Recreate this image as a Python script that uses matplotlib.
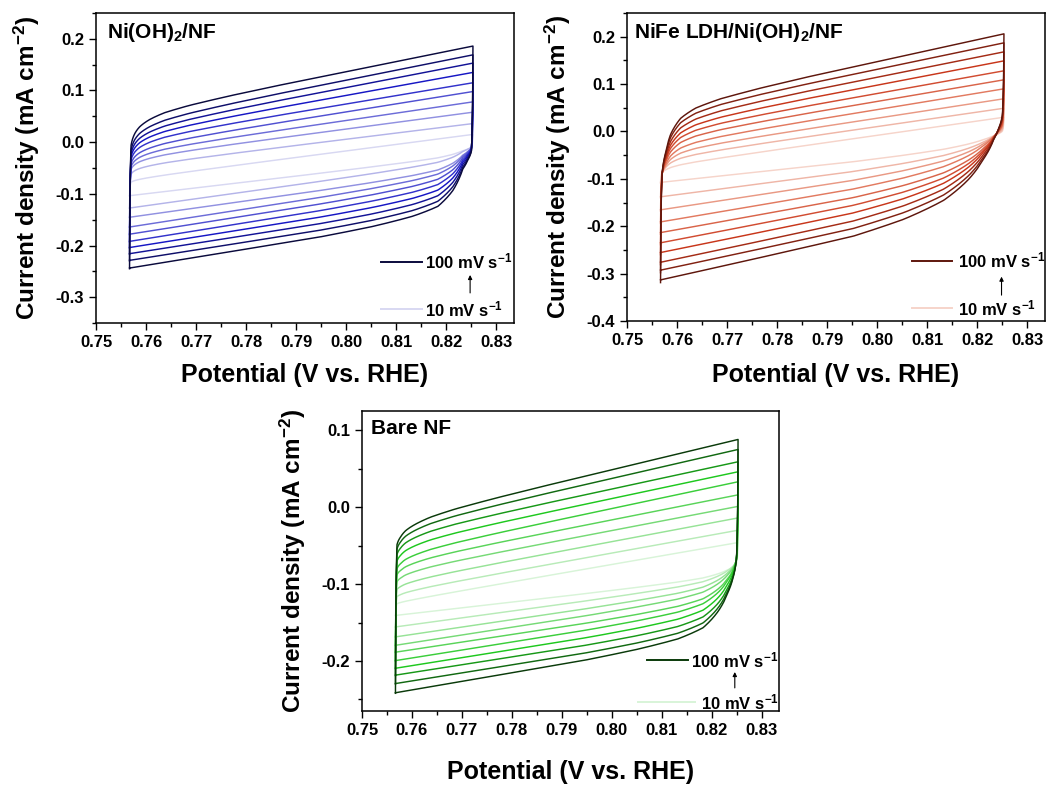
import matplotlib
matplotlib.use("Agg")
import matplotlib.pyplot as plt
import numpy as np
from matplotlib.colors import LinearSegmentedColormap
from matplotlib.ticker import MultipleLocator, FormatStrFormatter

plt.rcParams["font.family"] = ["Liberation Sans", "DejaVu Sans"]
plt.rcParams["font.weight"] = "bold"
plt.rcParams["mathtext.fontset"] = "custom"
plt.rcParams["mathtext.rm"] = "Liberation Sans:bold"
plt.rcParams["mathtext.bf"] = "Liberation Sans:bold"
plt.rcParams["mathtext.default"] = "bf"
plt.rcParams["axes.unicode_minus"] = False

# scan rates (mV/s), lightest -> darkest
scan_rates = [10, 20, 30, 40, 50, 60, 70, 80, 90, 100]

# vertex potentials and reference potentials (V vs. RHE)
E_LO, E_HI = 0.7567, 0.8253
E_UP_REF, E_DN_REF = 0.78, 0.80

# Ni(OH)2/NF: anodic branch at 0.78 V and at E_HI, cathodic branch at 0.80 V and at E_LO
ni_up_078 = [-0.042, -0.018, 0.000, 0.014, 0.028, 0.042, 0.056, 0.069, 0.082, 0.098]
ni_up_end = [0.015, 0.036, 0.058, 0.078, 0.098, 0.115, 0.135, 0.153, 0.169, 0.186]
ni_dn_080 = [-0.055, -0.070, -0.088, -0.101, -0.114, -0.127, -0.140, -0.153, -0.166, -0.179]
ni_dn_end = [-0.104, -0.128, -0.146, -0.165, -0.179, -0.193, -0.205, -0.217, -0.230, -0.245]

# NiFe LDH/Ni(OH)2/NF
nife_up_078 = [-0.038, -0.020, -0.004, 0.012, 0.028, 0.043, 0.058, 0.073, 0.088, 0.102]
nife_up_end = [0.030, 0.049, 0.069, 0.090, 0.109, 0.128, 0.149, 0.168, 0.187, 0.206]
nife_dn_080 = [-0.062, -0.083, -0.102, -0.121, -0.140, -0.157, -0.174, -0.192, -0.209, -0.226]
nife_dn_end = [-0.109, -0.140, -0.168, -0.194, -0.217, -0.239, -0.260, -0.281, -0.298, -0.319]

# Bare NF
nf_up_078 = [-0.097, -0.083, -0.069, -0.055, -0.042, -0.029, -0.016, -0.004, 0.008, 0.018]
nf_up_end = [-0.046, -0.030, -0.014, 0.001, 0.016, 0.033, 0.046, 0.059, 0.075, 0.088]
nf_dn_080 = [-0.109, -0.118, -0.128, -0.137, -0.147, -0.156, -0.166, -0.176, -0.186, -0.195]
nf_dn_end = [-0.141, -0.156, -0.169, -0.180, -0.189, -0.200, -0.210, -0.219, -0.230, -0.242]

# knee shape near the vertices: fraction of the way to the linear branch vs distance from vertex
knee_dE = [0, 0.0003, 0.001, 0.002, 0.004, 0.007, 0.012, 0.02, 0.03, 0.1]
ni_up_knee = [0, 0.80, 0.87, 0.91, 0.945, 0.97, 0.985, 0.994, 0.998, 1.0]
ni_dn_knee = [0, 0.62, 0.67, 0.72, 0.84, 0.92, 0.955, 0.978, 0.99, 1.0]
nife_up_knee = [0, 0.62, 0.74, 0.84, 0.92, 0.96, 0.982, 0.993, 0.998, 1.0]
nife_dn_knee = [0, 0.45, 0.52, 0.58, 0.68, 0.78, 0.87, 0.93, 0.965, 1.0]
nf_up_knee = [0, 0.86, 0.90, 0.93, 0.955, 0.975, 0.988, 0.995, 0.998, 1.0]
nf_dn_knee = [0, 0.60, 0.70, 0.77, 0.86, 0.93, 0.965, 0.983, 0.993, 1.0]

W, H = 1049, 785


def knee(dE, profile):
    # interpolate the knee profile on a log scale so the bend stays smooth
    lx = np.log10(np.asarray(knee_dE) + 2e-5)
    return np.interp(np.log10(dE + 2e-5), lx, profile)


def cv_loop(up_mid, up_end, dn_mid, dn_end, up_knee, dn_knee):
    E = np.linspace(E_LO, E_HI, 2000)
    up_line = up_mid + (up_end - up_mid) * (E - E_UP_REF) / (E_HI - E_UP_REF)
    dn_line = dn_end + (dn_mid - dn_end) * (E - E_LO) / (E_DN_REF - E_LO)
    f = knee(E - E_LO, up_knee)
    g = knee(E_HI - E, dn_knee)
    anodic = dn_end + f * (up_line - dn_end)
    cathodic = up_end + g * (dn_line - up_end)
    return np.concatenate([E, E[::-1]]), np.concatenate([anodic, cathodic[::-1]])


def draw_panel(rect_px, data, knees, cmap_cols, title, ylim, ymajor, leg):
    l, t, r, b = rect_px
    ax = fig.add_axes([l / W, (H - b) / H, (r - l) / W, (b - t) / H])
    cmap = LinearSegmentedColormap.from_list("c", cmap_cols)
    colors = [cmap(i / (len(scan_rates) - 1)) for i in range(len(scan_rates))]
    up_mid, up_end, dn_mid, dn_end = data
    for i in range(len(scan_rates)):
        x, y = cv_loop(up_mid[i], up_end[i], dn_mid[i], dn_end[i], *knees)
        ax.plot(x, y, color=colors[i], lw=1.05, solid_joinstyle="round")

    ax.set_xlim(0.75, 0.8335)
    ax.set_ylim(*ylim)
    ax.xaxis.set_major_locator(MultipleLocator(0.01))
    ax.xaxis.set_minor_locator(MultipleLocator(0.005))
    ax.yaxis.set_major_locator(MultipleLocator(ymajor))
    ax.yaxis.set_minor_locator(MultipleLocator(ymajor / 2))
    ax.xaxis.set_major_formatter(FormatStrFormatter("%.2f"))
    ax.yaxis.set_major_formatter(FormatStrFormatter("%.1f"))
    ax.tick_params(which="both", direction="out", top=False, right=False,
                   labelsize=12, width=1.0)
    ax.tick_params(which="major", length=5)
    ax.tick_params(which="minor", length=3)
    for s in ax.spines.values():
        s.set_linewidth(1.1)

    ax.set_xlabel("Potential (V vs. RHE)", fontsize=18, fontweight="bold")
    ax.set_ylabel(r"Current density (mA cm$^{-2}$)", fontsize=17.5, fontweight="bold")
    ax.xaxis.set_label_coords(0.5, leg["xlab_y"])
    ax.yaxis.set_label_coords(leg["ylab_x"], 0.5)

    ax.text(leg["title_x"], 0.975, title, transform=ax.transAxes, fontsize=15,
            fontweight="bold", ha="left", va="top")

    # scan-rate key
    ax.plot(leg["line_x"], [leg["top_y"]] * 2, transform=ax.transAxes, color=colors[-1], lw=1.4)
    ax.plot(leg["line_x2"], [leg["bot_y"]] * 2, transform=ax.transAxes, color=colors[0], lw=1.4)
    ax.text(leg["text_x"], leg["top_y"], r"100 mV s$^{-1}$", transform=ax.transAxes,
            fontsize=12, fontweight="bold", va="center", ha="left")
    ax.text(leg["text_x2"], leg["bot_y"], r"10 mV s$^{-1}$", transform=ax.transAxes,
            fontsize=12, fontweight="bold", va="center", ha="left")
    ax.annotate("", xy=(leg["arrow_x"], leg["arrow_y"][1]), xytext=(leg["arrow_x"], leg["arrow_y"][0]),
                xycoords="axes fraction",
                arrowprops=dict(arrowstyle="-|>", lw=0.8, color="black", mutation_scale=6,
                                shrinkA=0, shrinkB=0))
    return ax


fig = plt.figure(figsize=(W / 100, H / 100), dpi=100)

draw_panel((96, 13, 514, 323),
           (ni_up_078, ni_up_end, ni_dn_080, ni_dn_end), (ni_up_knee, ni_dn_knee),
           ["#d8d8f2", "#6c6cd8", "#1616c4", "#0a0a3c"],
           r"Ni(OH)$_2$/NF", (-0.35, 0.25), 0.1,
           dict(xlab_y=-0.128, ylab_x=-0.13, title_x=0.026,
                line_x=[0.683, 0.779], line_x2=[0.683, 0.779], text_x=0.788, text_x2=0.788,
                top_y=0.198, bot_y=0.045, arrow_x=0.895, arrow_y=(0.097, 0.155)))

draw_panel((627, 13, 1045, 321),
           (nife_up_078, nife_up_end, nife_dn_080, nife_dn_end), (nife_up_knee, nife_dn_knee),
           ["#f6d4ca", "#e27a60", "#c8361a", "#5e160c"],
           r"NiFe LDH/Ni(OH)$_2$/NF", (-0.4, 0.25), 0.1,
           dict(xlab_y=-0.135, ylab_x=-0.129, title_x=0.017,
                line_x=[0.683, 0.777], line_x2=[0.683, 0.777], text_x=0.791, text_x2=0.791,
                top_y=0.196, bot_y=0.042, arrow_x=0.896, arrow_y=(0.084, 0.144)))

draw_panel((362, 411, 779, 711),
           (nf_up_078, nf_up_end, nf_dn_080, nf_dn_end), (nf_up_knee, nf_dn_knee),
           ["#d8f4d8", "#76da76", "#1ec81e", "#0a3a0a"],
           "Bare NF", (-0.265, 0.125), 0.1,
           dict(xlab_y=-0.165, ylab_x=-0.13, title_x=0.022,
                line_x=[0.683, 0.782], line_x2=[0.662, 0.799], text_x=0.789, text_x2=0.813,
                top_y=0.17, bot_y=0.03, arrow_x=0.894, arrow_y=(0.077, 0.13)))

fig.savefig("out.png", dpi=100, facecolor="white")
